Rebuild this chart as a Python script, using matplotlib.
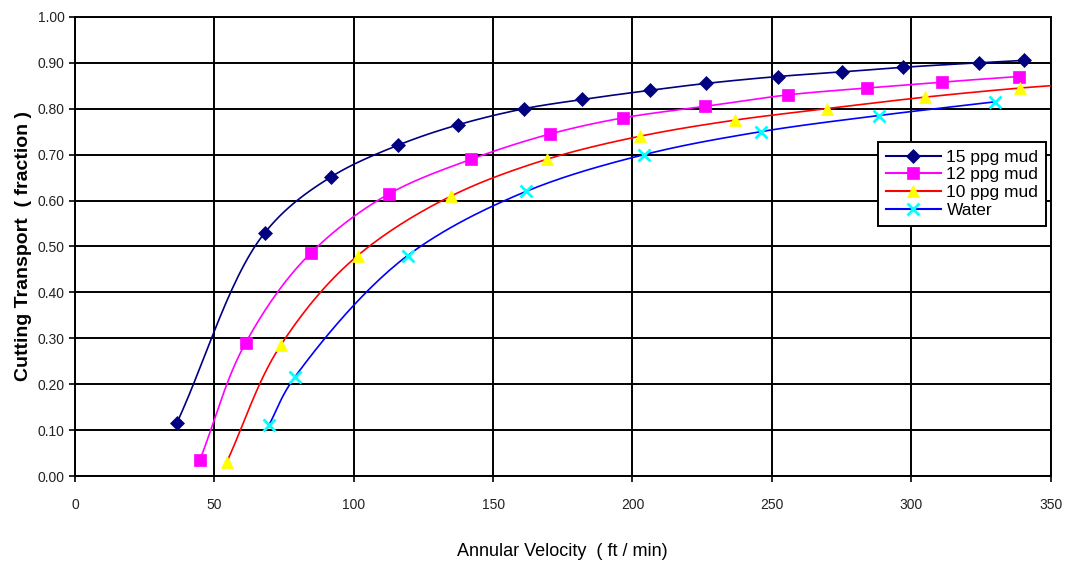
import numpy as np
import matplotlib
matplotlib.use("Agg")
import matplotlib.pyplot as plt
from matplotlib import font_manager

# Valori
v15 = [36.5, 68.1, 92.0, 115.7, 137.5, 161.2, 182.0, 206.3, 226.4, 252.1, 275.1, 296.9, 324.5, 340.3]
t15 = [0.115, 0.53, 0.652, 0.72, 0.765, 0.80, 0.82, 0.84, 0.855, 0.87, 0.88, 0.89, 0.90, 0.905]

v12 = [44.8, 61.2, 84.5, 112.8, 142.2, 170.5, 196.6, 226.0, 255.7, 284.0, 311.2, 338.5]
t12 = [0.035, 0.29, 0.485, 0.615, 0.69, 0.745, 0.78, 0.805, 0.83, 0.845, 0.858, 0.87]

v10 = [54.4, 73.8, 101.4, 135.0, 169.4, 202.7, 236.7, 269.7, 304.8, 339.2, 362.0]
t10 = [0.03, 0.285, 0.48, 0.61, 0.69, 0.74, 0.775, 0.80, 0.825, 0.845, 0.855]

vw = [69.5, 78.8, 119.3, 161.9, 204.2, 246.1, 288.3, 330.2]
tw = [0.11, 0.215, 0.48, 0.62, 0.70, 0.75, 0.785, 0.815]

xticks = [0, 50, 100, 150, 200, 250, 300, 350]
yticks = [0.0, 0.1, 0.2, 0.3, 0.4, 0.5, 0.6, 0.7, 0.8, 0.9, 1.0]

names = [f.name for f in font_manager.fontManager.ttflist]
fam = "Liberation Sans Narrow" if "Liberation Sans Narrow" in names else "Liberation Sans"
plt.rcParams['font.family'] = [fam, 'DejaVu Sans']


def smooth(x, y, n=30, alpha=0.5):
    # curva tipo Excel (Catmull-Rom centripeta, in coordinate normalizzate)
    p = np.column_stack([np.asarray(x) / 350.0, np.asarray(y)]).astype(float)
    p = np.vstack([2 * p[0] - p[1], p, 2 * p[-1] - p[-2]])
    out = []
    for i in range(1, len(p) - 2):
        p0, p1, p2, p3 = p[i - 1], p[i], p[i + 1], p[i + 2]
        t0 = 0.0
        t1 = t0 + np.linalg.norm(p1 - p0) ** alpha
        t2 = t1 + np.linalg.norm(p2 - p1) ** alpha
        t3 = t2 + np.linalg.norm(p3 - p2) ** alpha
        t = np.linspace(t1, t2, n)[:, None]
        a1 = (t1 - t) / (t1 - t0) * p0 + (t - t0) / (t1 - t0) * p1
        a2 = (t2 - t) / (t2 - t1) * p1 + (t - t1) / (t2 - t1) * p2
        a3 = (t3 - t) / (t3 - t2) * p2 + (t - t2) / (t3 - t2) * p3
        b1 = (t2 - t) / (t2 - t0) * a1 + (t - t0) / (t2 - t0) * a2
        b2 = (t3 - t) / (t3 - t1) * a2 + (t - t1) / (t3 - t1) * a3
        out.append((t2 - t) / (t2 - t1) * b1 + (t - t1) / (t2 - t1) * b2)
    s = np.vstack(out)
    return s[:, 0] * 350.0, s[:, 1]


fig = plt.figure(figsize=(10.72, 5.61), dpi=100)
ax = fig.add_axes([0.070, 0.1515, 0.910, 0.8185])

series = [
    (v15, t15, '15 ppg mud', '#000080', 'D', '#000080', 7),
    (v12, t12, '12 ppg mud', '#FF00FF', 's', '#FF00FF', 8),
    (v10, t10, '10 ppg mud', '#FF0000', '^', '#FFFF00', 9),
    (vw, tw, 'Water', '#0000FF', 'x', '#00FFFF', 8),
]
for x, y, lab, lc, mk, mc, ms in series:
    sx, sy = smooth(x, y)
    ax.plot(sx, sy, color=lc, lw=1.2, zorder=3)
    ax.plot(x, y, linestyle='none', marker=mk, color=mc, markersize=ms,
            markeredgewidth=2 if mk == 'x' else 0.5, markeredgecolor=mc, zorder=4, clip_on=True)
    ax.plot([], [], color=lc, lw=1.5, marker=mk, markerfacecolor=mc, markeredgecolor=mc,
            markersize=ms, markeredgewidth=2 if mk == 'x' else 0.5, label=lab)

ax.set_xlim(0, 350)
ax.set_ylim(0, 1.0)
ax.set_xticks(xticks)
ax.set_yticks(yticks)
ax.set_yticklabels([f"{v:.2f}" for v in yticks])
ax.grid(True, color='black', lw=1.4)
ax.set_axisbelow(True)
for s in ax.spines.values():
    s.set_color('black')
    s.set_linewidth(1.4)
ax.tick_params(axis='both', labelsize=10, color='black', length=4, width=1.2, labelcolor='#222222')
ax.tick_params(axis='x', pad=12)

ax.set_xlabel('Annular Velocity  ( ft / min)', fontsize=13, labelpad=22, color='black')
ax.set_ylabel('Cutting Transport  ( fraction )', fontsize=14, fontweight='bold', labelpad=4,
              family=['Liberation Sans', 'DejaVu Sans'])

leg = ax.legend(loc='upper left', bbox_to_anchor=(0.823, 0.728), borderaxespad=0,
                fontsize=12.5, frameon=True, fancybox=False, handlelength=3.2,
                handletextpad=0.3, labelspacing=0.15, borderpad=0.45)
leg.get_frame().set_edgecolor('black')
leg.get_frame().set_linewidth(1.4)
leg.get_frame().set_alpha(1)

fig.savefig('out.png', dpi=100)
